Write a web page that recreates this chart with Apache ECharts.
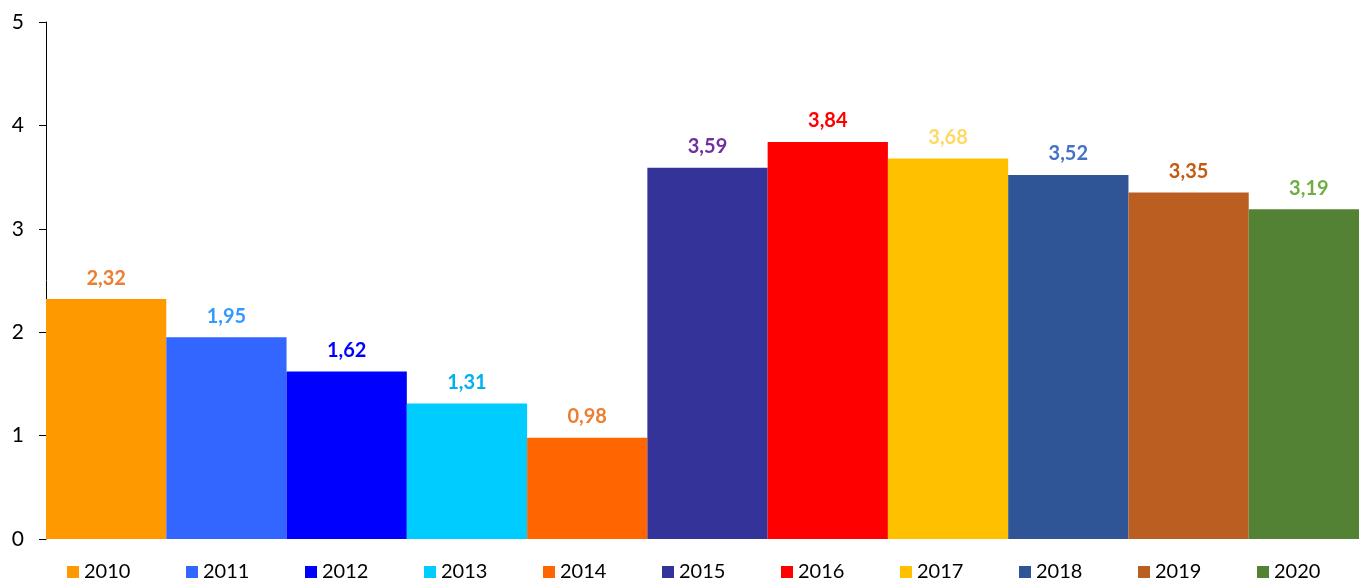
<!DOCTYPE html>
<html>
<head>
<meta charset="utf-8">
<script src="https://cdn.jsdelivr.net/npm/echarts@6/dist/echarts.min.js"></script>
<style>
  html, body { margin: 0; padding: 0; background: #fff; }
  #chart { width: 1359px; height: 581px; }
</style>
</head>
<body>
<div id="chart"></div>
<script>
const years = ['2010', '2011', '2012', '2013', '2014', '2015', '2016', '2017', '2018', '2019', '2020']
const values = [2.32, 1.95, 1.62, 1.31, 0.98, 3.59, 3.84, 3.68, 3.52, 3.35, 3.19]
const barColors = ['#FF9900', '#3366FF', '#0000FF', '#00CCFF', '#FF6600', '#333399', '#FF0000', '#FFC000', '#2F5597', '#BA5E22', '#548235']
const labelColors = ['#ED7D31', '#3399FF', '#0000FF', '#00B0F0', '#ED7D31', '#7030A0', '#FF0000', '#FFD966', '#4472C4', '#C55A11', '#70AD47']
const yTicks = [0, 1, 2, 3, 4, 5]

const chart = echarts.init(document.getElementById('chart'))

const series = years.map((y, i) => ({
  name: y,
  type: 'bar',
  stack: 'all',
  barCategoryGap: '0%',
  data: years.map((_, j) => (j === i ? values[i] : '-')),
  itemStyle: { color: barColors[i] },
  label: {
    show: true,
    position: 'top',
    distance: 11,
    color: labelColors[i],
    fontFamily: 'Lato',
    fontWeight: 'bold',
    fontSize: 20,
    formatter: (p) => p.value.toFixed(2).replace('.', ',')
  }
}))

chart.setOption({
  animation: false,
  backgroundColor: '#fff',
  // the last bar runs past the right edge in the original
  grid: { left: 46, right: -10, top: 22, bottom: 42, outerBoundsMode: 'none' },
  legend: {
    data: years,
    left: 67,
    top: 562,
    padding: 0,
    itemWidth: 12,
    itemHeight: 12,
    itemGap: 55.6,
    icon: 'rect',
    textStyle: { color: '#000', fontSize: 20, fontFamily: 'Lato', width: 44 }
  },
  xAxis: {
    type: 'category',
    data: years,
    axisLine: { show: false },
    axisTick: { show: false },
    axisLabel: { show: false }
  },
  yAxis: {
    type: 'value',
    min: yTicks[0],
    max: yTicks[yTicks.length - 1],
    interval: 1,
    axisLine: { show: true, lineStyle: { color: '#000', width: 1 } },
    axisTick: { show: true, length: 7, lineStyle: { color: '#000' } },
    splitLine: { show: false },
    axisLabel: { color: '#000', fontSize: 21, fontFamily: 'Lato', margin: 22 }
  },
  series: series
})
</script>
</body>
</html>
